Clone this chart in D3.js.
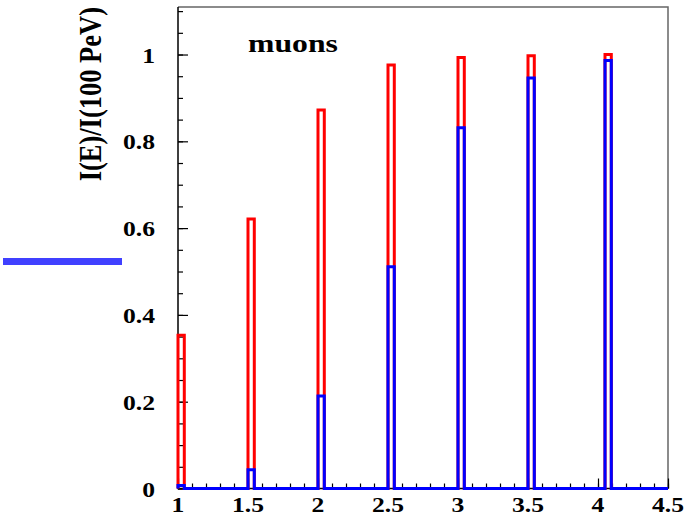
<!DOCTYPE html>
<html>
<head>
<meta charset="utf-8">
<script src="https://cdn.jsdelivr.net/npm/d3@7"></script>
<style>
  html, body { margin: 0; padding: 0; background: #fff; }
  svg { display: block; }
  text { font-family: "Liberation Serif", "Times New Roman", serif; font-weight: bold; fill: #000; }
</style>
</head>
<body>
<script>
// log10(E / PeV) bin low edges
const binStarts = [1.0, 1.5, 2.0, 2.5, 3.0, 3.5, 4.05];
const binWidth = 0.045;
// relative intensity I(E)/I(100 PeV)
const redValues  = [0.353, 0.621, 0.872, 0.976, 0.993, 0.997, 1.0];
const blueValues = [0.007, 0.043, 0.213, 0.511, 0.831, 0.946, 0.986];
const xTicks = [1, 1.5, 2, 2.5, 3, 3.5, 4, 4.5];
const xTickLabels = ["1", "1.5", "2", "2.5", "3", "3.5", "4", "4.5"];
const yTicks = [0, 0.2, 0.4, 0.6, 0.8, 1];
const yTickLabels = ["0", "0.2", "0.4", "0.6", "0.8", "1"];
const yTitle = "I(E)/I(100 PeV)";
const panelLabel = "muons";

const W = 686, H = 518;
const frame = { left: 178, right: 668, top: 7, bottom: 488.5 };
const stretch = 1.22; // horizontal glyph stretch of the lettering

const svg = d3.select("body").append("svg").attr("width", W).attr("height", H);

const x = d3.scaleLinear().domain([1, 4.5]).range([frame.left, frame.right]);
const y = d3.scaleLinear().domain([0, 1.1095]).range([frame.bottom, frame.top]);

// frame: grey top/right, black axes
svg.append("path")
  .attr("d", `M${frame.left},${frame.top}H${frame.right}V${frame.bottom}`)
  .attr("fill", "none").attr("stroke", "#666").attr("stroke-width", 1.5);
svg.append("path")
  .attr("d", `M${frame.left},${frame.top}V${frame.bottom}H${frame.right}`)
  .attr("fill", "none").attr("stroke", "#000").attr("stroke-width", 1.5);

// ticks drawn inside the frame
const yMinor = d3.range(0, 1.1001, 0.05);
const xMinor = d3.range(1, 4.5001, 0.1);
const gy = svg.append("g").attr("transform", `translate(${frame.left},0)`);
gy.call(d3.axisRight(y).tickValues(yMinor).tickSize(5).tickFormat(""));
gy.call(g => g.append("g").call(d3.axisRight(y).tickValues(yTicks).tickSize(10).tickFormat("")));
const gx = svg.append("g").attr("transform", `translate(0,${frame.bottom})`);
gx.call(d3.axisTop(x).tickValues(xMinor).tickSize(5).tickFormat(""));
gx.call(g => g.append("g").call(d3.axisTop(x).tickValues(xTicks).tickSize(10).tickFormat("")));
svg.selectAll(".domain").remove();
svg.selectAll(".tick line").attr("stroke", "#000").attr("stroke-width", 1.2);

// histogram outline from bin edges and heights
function outline(values) {
  const p = d3.path();
  p.moveTo(x(1), y(0));
  binStarts.forEach((b, i) => {
    p.lineTo(x(b), y(0));
    p.lineTo(x(b), y(values[i]));
    p.lineTo(x(b + binWidth), y(values[i]));
    p.lineTo(x(b + binWidth), y(0));
  });
  p.lineTo(x(4.5), y(0));
  return p.toString();
}
svg.append("path").attr("d", outline(redValues))
  .attr("fill", "none").attr("stroke", "#ff0000").attr("stroke-width", 3);
svg.append("path").attr("d", outline(blueValues))
  .attr("fill", "none").attr("stroke", "#0000ff").attr("stroke-width", 3);

// tick labels
function label(tx, ty, str, size, anchor) {
  svg.append("g").attr("transform", `translate(${tx},${ty}) scale(${stretch},1)`)
    .append("text").attr("font-size", size).attr("text-anchor", anchor).text(str);
}
yTicks.forEach((v, i) => label(155, y(v) + 8, yTickLabels[i], 21, "end"));
xTicks.forEach((v, i) => label(x(v), 511.5, xTickLabels[i], 21, "middle"));

// axis title, rotated
svg.append("g").attr("transform", `translate(101,7) scale(${stretch},1) rotate(-90)`)
  .append("text").attr("font-size", 26.5).attr("text-anchor", "end").text(yTitle);

// panel label
label(248, 51.5, panelLabel, 26, "start");

// short blue line stub at left
svg.append("rect").attr("x", 3).attr("y", 258).attr("width", 119).attr("height", 7)
  .attr("fill", "#4040ff");
</script>
</body>
</html>
